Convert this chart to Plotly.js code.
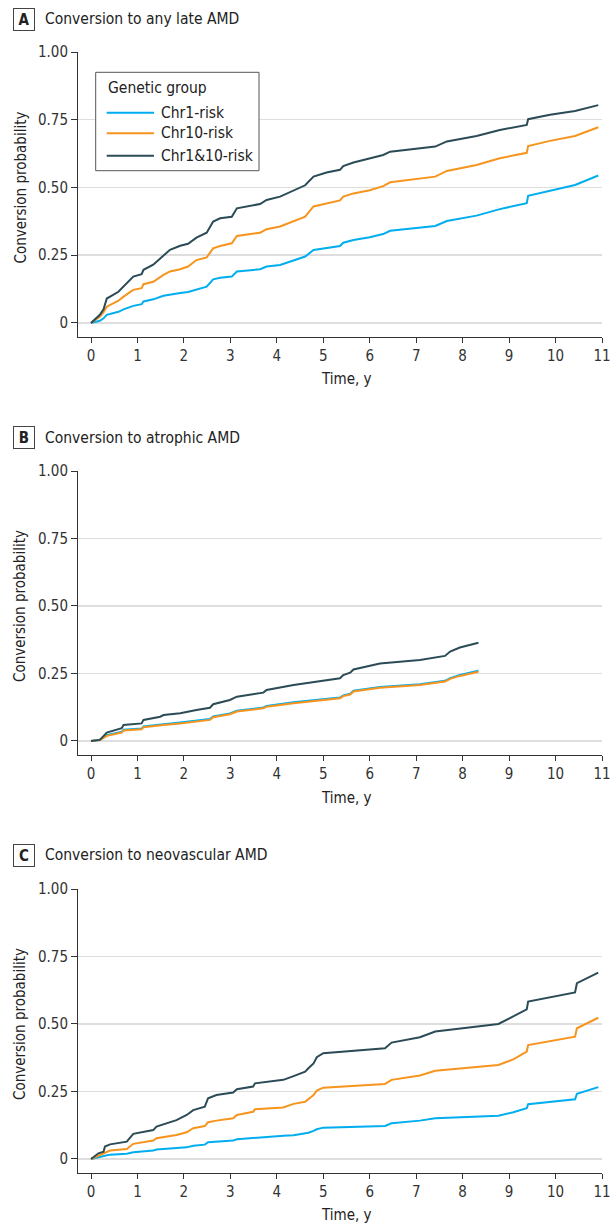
<!DOCTYPE html>
<html>
<head>
<meta charset="utf-8">
<script src="https://cdn.plot.ly/plotly-3.0.1.min.js"></script>
<style>
html,body{margin:0;padding:0;background:#fff;}
#chart{width:612px;height:1224px;}
</style>
</head>
<body>
<div id="chart"></div>
<script>
// ---------- DATA ----------
const seriesNames = ["Chr1-risk", "Chr10-risk", "Chr1&10-risk"];
const seriesColors = ["#00AEEF", "#F7941D", "#2B4B56"];
const legendTitle = "Genetic group";

const panelLabels = ["A", "B", "C"];
const panelTitles = ["Conversion to any late AMD", "Conversion to atrophic AMD", "Conversion to neovascular AMD"];

const xTickVals = [0,1,2,3,4,5,6,7,8,9,10,11];
const yTickVals = [0, 0.25, 0.5, 0.75, 1.0];
const yTickText = ["0", "0.25", "0.50", "0.75", "1.00"];

// Panel A: any late AMD
const timeA = [0,0.19,0.27,0.34,0.59,0.70,0.91,1.09,1.13,1.34,1.56,1.70,1.92,2.09,2.27,2.49,2.63,2.78,3.03,3.14,3.64,3.78,4.07,4.36,4.61,4.79,5.07,5.36,5.43,5.65,6.0,6.29,6.44,6.87,7.41,7.66,8.3,8.8,9.38,9.41,9.88,10.42,10.92];
const anyChr1 = [0,0.008,0.017,0.03,0.041,0.05,0.063,0.069,0.079,0.087,0.1,0.105,0.11,0.114,0.124,0.134,0.161,0.167,0.171,0.19,0.198,0.208,0.214,0.23,0.245,0.269,0.276,0.284,0.296,0.306,0.316,0.328,0.34,0.348,0.358,0.376,0.396,0.42,0.442,0.469,0.488,0.509,0.544];
const anyChr10 = [0,0.023,0.04,0.06,0.082,0.097,0.122,0.128,0.143,0.152,0.177,0.19,0.198,0.208,0.232,0.242,0.275,0.284,0.294,0.321,0.333,0.346,0.356,0.374,0.392,0.43,0.442,0.452,0.466,0.478,0.49,0.505,0.519,0.528,0.54,0.561,0.583,0.608,0.628,0.653,0.672,0.69,0.722];
const anyChr1and10 = [0,0.03,0.05,0.09,0.115,0.134,0.171,0.18,0.196,0.215,0.25,0.27,0.285,0.292,0.315,0.333,0.374,0.386,0.392,0.423,0.439,0.454,0.466,0.49,0.508,0.54,0.555,0.565,0.579,0.592,0.608,0.62,0.632,0.641,0.651,0.67,0.69,0.712,0.731,0.752,0.768,0.782,0.804];

// Panel B: atrophic AMD
const timeB = [0,0.19,0.34,0.55,0.66,0.70,1.09,1.13,1.49,1.56,1.92,2.27,2.56,2.63,2.99,3.14,3.71,3.78,4.36,5.36,5.43,5.58,5.65,6.22,7.08,7.62,7.73,7.94,8.34];
const atrChr1 = [0,0.004,0.021,0.029,0.034,0.042,0.046,0.054,0.059,0.062,0.068,0.074,0.081,0.091,0.102,0.112,0.124,0.130,0.143,0.161,0.169,0.175,0.186,0.200,0.210,0.223,0.233,0.244,0.260];
const atrChr10 = [0,0.003,0.019,0.026,0.031,0.039,0.043,0.051,0.056,0.059,0.065,0.071,0.078,0.088,0.099,0.109,0.121,0.127,0.14,0.158,0.166,0.172,0.183,0.197,0.207,0.22,0.23,0.241,0.256];
const atrChr1and10 = [0,0.004,0.031,0.041,0.047,0.059,0.065,0.078,0.09,0.096,0.103,0.115,0.123,0.136,0.152,0.164,0.179,0.189,0.207,0.232,0.244,0.253,0.265,0.287,0.3,0.315,0.331,0.346,0.364];

// Panel C: neovascular AMD
const timeC = [0,0.16,0.27,0.30,0.41,0.77,0.91,1.34,1.41,1.84,2.06,2.2,2.45,2.52,2.7,3.06,3.14,3.49,3.53,4.14,4.36,4.61,4.68,4.79,4.86,5.0,6.33,6.47,7.08,7.41,8.77,9.09,9.38,9.41,10.42,10.46,10.92];
const neoChr1 = [0,0.005,0.01,0.012,0.016,0.019,0.025,0.031,0.035,0.039,0.043,0.049,0.053,0.062,0.064,0.068,0.073,0.078,0.08,0.086,0.088,0.093,0.097,0.104,0.11,0.116,0.122,0.132,0.142,0.151,0.16,0.173,0.188,0.203,0.221,0.241,0.266];
const neoChr10 = [0,0.012,0.02,0.025,0.031,0.037,0.056,0.068,0.077,0.089,0.099,0.114,0.122,0.136,0.142,0.151,0.163,0.175,0.184,0.191,0.204,0.212,0.221,0.237,0.253,0.264,0.278,0.293,0.309,0.327,0.348,0.369,0.398,0.422,0.453,0.484,0.523];
const neoChr1and10 = [0,0.021,0.027,0.046,0.054,0.064,0.093,0.107,0.12,0.144,0.163,0.181,0.194,0.225,0.237,0.246,0.258,0.268,0.28,0.293,0.307,0.323,0.336,0.354,0.377,0.392,0.41,0.431,0.451,0.472,0.5,0.527,0.554,0.583,0.617,0.651,0.69];

// ---------- BUILD ----------
const W = 612, H = 1224;
const FONT = "'Liberation Sans Narrow', 'DejaVu Sans Condensed', sans-serif";
const panels = [
  {t: timeA, s: [anyChr1, anyChr10, anyChr1and10]},
  {t: timeB, s: [atrChr1, atrChr10, atrChr1and10]},
  {t: timeC, s: [neoChr1, neoChr10, neoChr1and10]}
];
// pixel geometry (top of plot, bottom axis line)
const plotTop = [52, 471, 889];
const plotBot = [337, 755, 1173];
const labelY = [19.5, 437.5, 855];
const xTitleY = [379, 798, 1215];

const py = v => 1 - v / H;
const px = v => v / W;

const traces = [];
panels.forEach((p, i) => {
  const ax = i === 0 ? "" : String(i + 1);
  p.s.forEach((vals, k) => {
    traces.push({
      type: "scatter", mode: "lines",
      x: p.t, y: vals,
      xaxis: "x" + ax, yaxis: "y" + ax,
      name: seriesNames[k],
      legendgroup: seriesNames[k],
      showlegend: false,
      line: {color: seriesColors[k], width: 2},
      hoverinfo: "skip"
    });
  });
});

const layout = {
  width: W, height: H,
  margin: {l: 0, r: 0, t: 0, b: 0},
  paper_bgcolor: "#fff", plot_bgcolor: "#fff",
  font: {family: FONT, size: 15, color: "#222"},
  showlegend: false,
  annotations: [],
  shapes: []
};

// legend box (panel A)
const LG = {x0: 95.7, x1: 259, y0: 72.3, y1: 170.7, titleY: 88.3, itemY: [112.7, 133.3, 155.7], lineX0: 106.7, lineX1: 154, textX: 159.3};
layout.shapes.push({
  type: "rect", xref: "paper", yref: "paper",
  x0: px(LG.x0), x1: px(LG.x1), y0: py(LG.y1), y1: py(LG.y0),
  line: {color: "#555", width: 1}, fillcolor: "#fff", layer: "above"
});
layout.annotations.push({
  xref: "paper", yref: "paper", x: px(LG.lineX0 - 1), y: py(LG.titleY),
  xanchor: "left", yanchor: "middle", showarrow: false,
  text: legendTitle, font: {family: FONT, size: 15.5, color: "#222"}
});
seriesNames.forEach((nm, k) => {
  layout.shapes.push({
    type: "line", xref: "paper", yref: "paper",
    x0: px(LG.lineX0), x1: px(LG.lineX1), y0: py(LG.itemY[k]), y1: py(LG.itemY[k]),
    line: {color: seriesColors[k], width: 2}, layer: "above"
  });
  layout.annotations.push({
    xref: "paper", yref: "paper", x: px(LG.textX), y: py(LG.itemY[k]),
    xanchor: "left", yanchor: "middle", showarrow: false,
    text: nm, font: {family: FONT, size: 15.5, color: "#222"}
  });
});

panels.forEach((p, i) => {
  const ax = i === 0 ? "" : String(i + 1);
  layout["xaxis" + ax] = {
    domain: [px(78), px(602)],
    range: [-0.28, 11],
    anchor: "y" + ax,
    tickvals: xTickVals,
    ticks: "outside", ticklen: 5, tickcolor: "#333", tickwidth: 1,
    showline: true, linecolor: "#333", linewidth: 1,
    showgrid: false, zeroline: false,
    tickfont: {family: FONT, size: 15, color: "#333"},
    fixedrange: true
  };
  layout["yaxis" + ax] = {
    domain: [py(plotBot[i]), py(plotTop[i])],
    range: [-0.052, 1.0],
    anchor: "x" + ax,
    tickvals: yTickVals, ticktext: yTickText,
    ticks: "outside", ticklen: 6, tickcolor: "#333", tickwidth: 1,
    showline: true, linecolor: "#333", linewidth: 1,
    showgrid: true, gridcolor: "#dedede", gridwidth: 1.5,
    zeroline: false,
    tickfont: {family: FONT, size: 15, color: "#333"},
    fixedrange: true
  };
  // panel letter box
  layout.annotations.push({
    xref: "paper", yref: "paper", x: px(23.5), y: py(labelY[i]),
    xanchor: "center", yanchor: "middle", showarrow: false,
    text: "<b>" + panelLabels[i] + "</b>",
    font: {family: FONT, size: 15, color: "#222"},
    width: 16, height: 17, borderpad: 2,
    bordercolor: "#444", borderwidth: 1, bgcolor: "#fff"
  });
  // panel title
  layout.annotations.push({
    xref: "paper", yref: "paper", x: px(43), y: py(labelY[i]),
    xanchor: "left", yanchor: "middle", showarrow: false,
    text: panelTitles[i],
    font: {family: FONT, size: 15.5, color: "#222"}
  });
  // y title
  layout.annotations.push({
    xref: "paper", yref: "paper", x: px(20), y: py((plotTop[i] + plotBot[i] - 14) / 2),
    xanchor: "center", yanchor: "middle", showarrow: false, textangle: -90,
    text: "Conversion probability",
    font: {family: FONT, size: 15, color: "#222"}
  });
  // x title
  layout.annotations.push({
    xref: "x" + ax, yref: "paper", x: 5.5, y: py(xTitleY[i]),
    xanchor: "center", yanchor: "middle", showarrow: false,
    text: "Time, y",
    font: {family: FONT, size: 15, color: "#222"}
  });
});

Plotly.newPlot("chart", traces, layout, {staticPlot: true, displayModeBar: false});
</script>
</body>
</html>
